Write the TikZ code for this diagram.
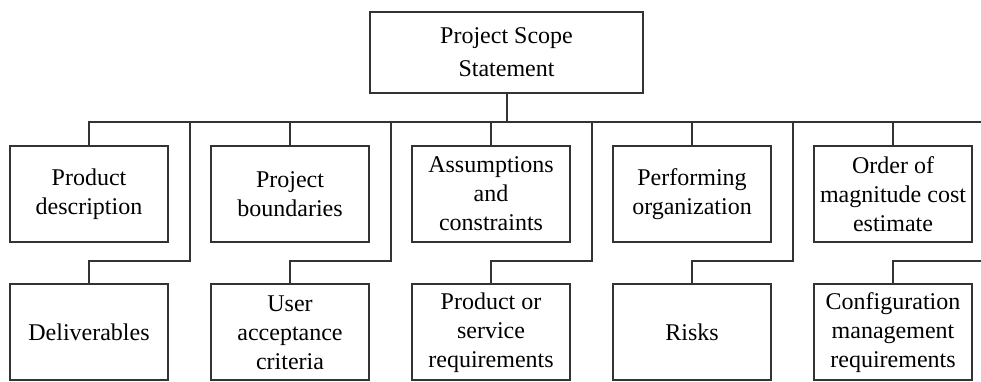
\documentclass[tikz,border=0pt]{standalone}
\usepackage{fontspec}
\setmainfont{Liberation Serif}
\usetikzlibrary{positioning}

\begin{document}
\begin{tikzpicture}[
        x=1pt, y=1pt,
        node distance=138.5pt and 201pt,
        on grid,
        every node/.style={font=\fontsize{24}{29}\selectfont, align=center},
        box/.style={draw=black!80, line width=2pt, minimum width=158pt, minimum height=96pt, inner sep=1pt},
        link/.style={draw=black!80, line width=2pt}
    ]
        \useasboundingbox (0,0) rectangle (981,382);
        \clip (0,0) rectangle (981,382);
        \node[box, minimum width=273pt, minimum height=81pt,
              font=\fontsize{24}{33}\selectfont] (root) at (506.5,329.5) {Project Scope\\Statement};
% first row
        \node[box] (desc) at (89,188) {Product\\description};
\node[box, right=of desc] (bound) {Project\\boundaries};
        \node[box, right=of bound] (assum) {Assumptions\\and\\constraints};
        \node[box, right=of assum] (perf) {Performing\\organization};
        \node[box, right=of perf] (est) {Order of\\magnitude cost\\estimate};
% second row
        \node[box, below=of desc] (deliv) {Deliverables};
        \node[box, below=of bound] (user) {User\\acceptance\\criteria};
        \node[box, below=of assum] (req) {Product or\\service\\requirements};
        \node[box, below=of perf] (risk) {Risks};
        \node[box, below=of est] (conf) {Configuration\\management\\requirements};
        \coordinate (bus) at (0,260);
        \coordinate (elbow) at (0,121);
        \foreach \up/\n in {desc/1, bound/2, assum/3, perf/4, est/5}
            \coordinate[right=101pt of \up] (d\n);
\draw[link] (root.south) -- (root.south |- bus);
        \draw[link] (desc.north) |- (d5 |- bus);
        \foreach \up in {bound, assum, perf, est}
            \draw[link] (\up.north) -- (\up.north |- bus);
        \foreach \low/\n in {deliv/1, user/2, req/3, risk/4, conf/5}
            \draw[link] (d\n |- bus) -- (d\n |- elbow) -| (\low.north);
\end{tikzpicture}
\end{document}
